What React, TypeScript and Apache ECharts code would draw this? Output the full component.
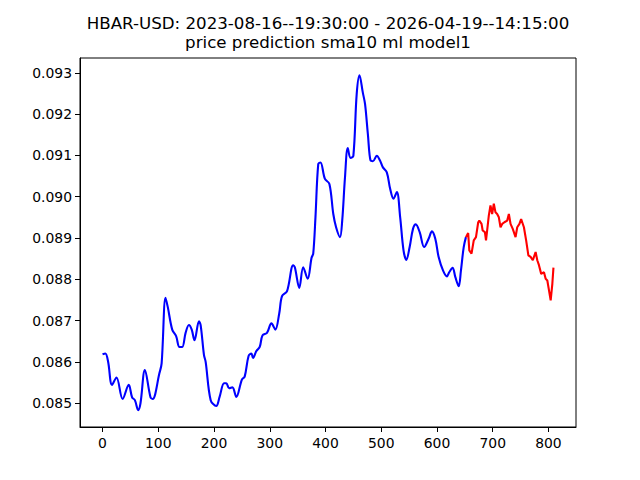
import React, { useEffect, useRef } from "react";
import * as echarts from "echarts";

const titleLines = [
  "HBAR-USD: 2023-08-16--19:30:00 - 2026-04-19--14:15:00",
  "price prediction sma10 ml model1",
];

const xTicks = [0, 100, 200, 300, 400, 500, 600, 700, 800];
const yTicks = [0.085, 0.086, 0.087, 0.088, 0.089, 0.09, 0.091, 0.092, 0.093];

const actualX = [
  0, 5, 10, 17, 25, 36, 47, 53, 58, 64, 68, 76, 86, 90, 102, 106, 113, 117, 125, 132,
  138, 143, 149, 155, 160, 165, 173, 176, 182, 185, 194, 204, 210, 218, 222, 227, 233, 240, 250, 255,
  262, 267, 270, 276, 282, 287, 295, 303, 310, 317, 322, 331, 342, 345, 353, 360, 368, 375, 378, 382,
  387, 391, 399, 407, 414, 419, 426, 430, 435, 440, 445, 450, 456, 461, 467, 471, 476, 481, 485, 492,
  498, 503, 510, 516, 522, 528, 534, 540, 545, 551, 557, 562, 569, 577, 585, 591, 597, 603, 611, 618,
  622, 628, 633, 639, 643, 648, 652,
];
const actualY = [
  0.08618, 0.0862, 0.086, 0.08544, 0.08562, 0.0851, 0.08544, 0.08514, 0.08507, 0.08483,
  0.08499, 0.0858, 0.08514, 0.0851, 0.08572, 0.08596, 0.08755, 0.08733, 0.08678, 0.08662,
  0.08636, 0.08636, 0.0867, 0.08689, 0.08678, 0.08652, 0.08698, 0.08689, 0.08616, 0.086,
  0.08507, 0.08493, 0.08515, 0.08548, 0.08548, 0.08536, 0.08538, 0.08515, 0.08557, 0.08564,
  0.08614, 0.0862, 0.08609, 0.08626, 0.08636, 0.08664, 0.0867, 0.08693, 0.08678, 0.08717,
  0.08759, 0.08771, 0.08834, 0.08829, 0.08779, 0.08829, 0.08801, 0.08852, 0.08862, 0.0895,
  0.09079, 0.09083, 0.09043, 0.09031, 0.08958, 0.08926, 0.08902, 0.08942, 0.09047, 0.09118,
  0.09094, 0.09099, 0.09249, 0.09294, 0.09252, 0.09224, 0.09152, 0.09087, 0.09086, 0.09099,
  0.09087, 0.09071, 0.09059, 0.09019, 0.08995, 0.09011, 0.0895, 0.0887, 0.08847, 0.08878,
  0.08922, 0.08933, 0.08914, 0.08878, 0.08898, 0.08916, 0.08898, 0.08854, 0.08821, 0.08807,
  0.08817, 0.08828, 0.08805, 0.08783, 0.08821, 0.08878, 0.08902,
];

const predX = [
  652, 656, 658, 662, 666, 670, 674, 676, 680, 682, 686, 688, 690, 693, 696, 699, 702, 705, 708, 711,
  714, 717, 721, 726, 729, 732, 736, 741, 744, 748, 751, 756, 760, 764, 768, 772, 777, 780, 783, 787,
  792, 795, 798, 801, 804, 807, 809,
];
const predY = [
  0.08902, 0.08912, 0.0887, 0.08862, 0.08894, 0.08902, 0.08938, 0.08942, 0.08934, 0.08918,
  0.08914, 0.08894, 0.08918, 0.08954, 0.08979, 0.08958, 0.08983, 0.08962, 0.08958, 0.0895,
  0.08926, 0.08934, 0.08938, 0.08942, 0.08958, 0.08934, 0.08922, 0.08902, 0.08926, 0.08934,
  0.08946, 0.08926, 0.08894, 0.08858, 0.08854, 0.08846, 0.08866, 0.08846, 0.08834, 0.08813,
  0.08817, 0.08801, 0.08797, 0.08773, 0.08749, 0.08789, 0.08828,
];

const FONT = "DejaVu Sans";

export default function App() {
  const ref = useRef<HTMLDivElement>(null);
  useEffect(() => {
    if (!ref.current) return;
    const chart = echarts.init(ref.current, null, { renderer: "svg" });
    const actual = actualX.map((x, i) => [x, actualY[i]]);
    const pred = predX.map((x, i) => [x, predY[i]]);
    chart.setOption({
      animation: false,
      backgroundColor: "#ffffff",
      grid: {
        left: 80,
        right: 64,
        top: 58,
        bottom: 53,
        show: true,
        borderColor: "#000000",
        borderWidth: 1,
        backgroundColor: "transparent",
      },
      graphic: [
        {
          type: "text",
          x: 328,
          y: 23,
          style: {
            text: titleLines[0],
            fontFamily: FONT,
            fontSize: 16.67,
            fill: "#000000",
            align: "center",
            verticalAlign: "middle",
          },
        },
        {
          type: "text",
          x: 328,
          y: 42,
          style: {
            text: titleLines[1],
            fontFamily: FONT,
            fontSize: 16.67,
            fill: "#000000",
            align: "center",
            verticalAlign: "middle",
          },
        },
      ],
      xAxis: {
        type: "value",
        min: -40.45,
        max: 849.45,
        splitLine: { show: false },
        axisLine: { show: true, onZero: false, lineStyle: { color: "#000000", width: 1 } },
        axisTick: {
          show: true,
          inside: false,
          length: 5,
          customValues: xTicks,
          lineStyle: { color: "#000000", width: 1 },
        },
        axisLabel: {
          show: true,
          customValues: xTicks,
          margin: 9,
          fontFamily: FONT,
          fontSize: 13.9,
          color: "#000000",
        },
      },
      yAxis: {
        type: "value",
        min: 0.08442,
        max: 0.09336,
        splitLine: { show: false },
        axisLine: { show: true, onZero: false, lineStyle: { color: "#000000", width: 1 } },
        axisTick: {
          show: true,
          inside: false,
          length: 5,
          customValues: yTicks,
          lineStyle: { color: "#000000", width: 1 },
        },
        axisLabel: {
          show: true,
          customValues: yTicks,
          margin: 8,
          fontFamily: FONT,
          fontSize: 13.9,
          color: "#000000",
          formatter: (v: number) => v.toFixed(3),
        },
      },
      series: [
        {
          type: "line",
          data: actual,
          smooth: 0.35,
          showSymbol: false,
          symbol: "none",
          lineStyle: { color: "#0000ff", width: 2.1 },
          z: 2,
        },
        {
          type: "line",
          data: pred,
          smooth: false,
          showSymbol: false,
          symbol: "none",
          lineStyle: { color: "#ff0000", width: 2.1 },
          z: 3,
        },
      ],
    });
    return () => chart.dispose();
  }, []);
  return (
    <div
      ref={ref}
      style={{ position: "fixed", left: 0, top: 0, width: 640, height: 480, background: "#fff" }}
    />
  );
}
